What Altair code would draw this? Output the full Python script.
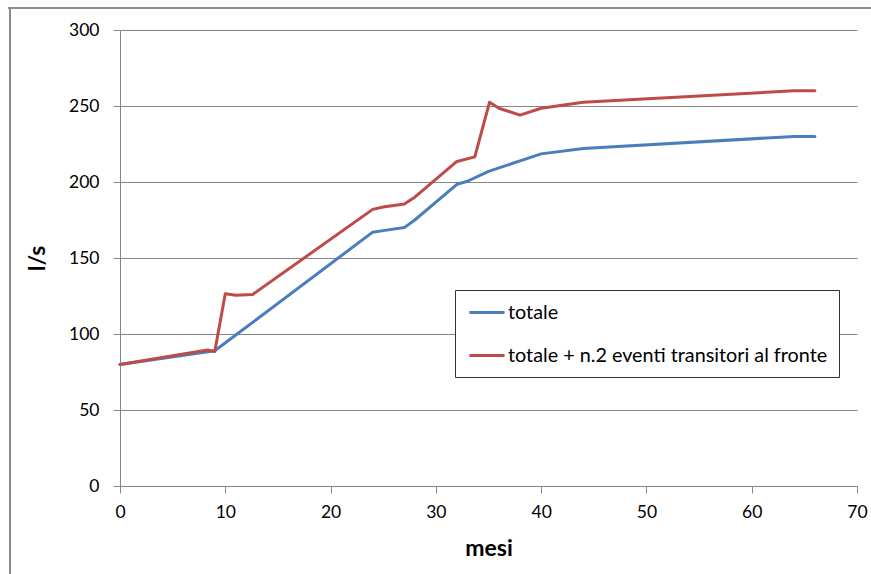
import altair as alt
import pandas as pd

series_names = ["totale", "totale + n.2 eventi transitori al fronte"]
series_colors = ["#4a7ebb", "#be4b48"]

mesi_totale = [0, 9, 24, 25, 27, 28, 32, 33, 35, 40, 44, 64, 66]
ls_totale = [80, 89, 167, 168, 170, 175, 198.5, 200.5, 207, 218.5, 222, 230, 230]

mesi_eventi = [0, 8.3, 9, 10, 11, 12.6, 24, 25, 27, 28, 32, 33.7, 35.1, 36, 38, 40, 44, 64, 66]
ls_eventi = [80, 89.5, 88.5, 126.5, 125.5, 126, 182, 183.5, 185.5, 190, 213.5, 216.5, 252.5, 248.5, 244, 248.5, 252.5, 260, 260]

x_ticks = [0, 10, 20, 30, 40, 50, 60, 70]
y_ticks = [0, 50, 100, 150, 200, 250, 300]

df = pd.concat([
    pd.DataFrame({"mesi": mesi_totale, "ls": ls_totale, "serie": series_names[0]}),
    pd.DataFrame({"mesi": mesi_eventi, "ls": ls_eventi, "serie": series_names[1]}),
], ignore_index=True)

FONT = "Lato"
GRAY = "#868686"

lines = alt.Chart(df).mark_line(strokeWidth=3, interpolate="linear", strokeJoin="round", strokeCap="round").encode(
    x=alt.X("mesi:Q",
            scale=alt.Scale(domain=[0, 70], nice=False, zero=False),
            axis=alt.Axis(values=x_ticks, title="mesi", grid=False, labelFlush=False,
                          domainColor=GRAY, tickColor=GRAY, tickSize=7,
                          labelPadding=10, labelFontSize=17.5, labelFont=FONT, labelColor="#000",
                          titleFontSize=23, titleFont=FONT, titleFontWeight="bold", titleColor="#000",
                          titleY=62, titleBaseline="middle")),
    y=alt.Y("ls:Q",
            scale=alt.Scale(domain=[0, 300], nice=False),
            axis=alt.Axis(values=y_ticks, title="l/s", grid=True, gridColor=GRAY, labelFlush=False,
                          domainColor=GRAY, tickColor=GRAY, tickSize=7,
                          labelPadding=14, labelFontSize=17.5, labelFont=FONT, labelColor="#000",
                          titleFontSize=23, titleFont=FONT, titleFontWeight="bold", titleColor="#000",
                          titleX=-83, titleY=228, titleAngle=-90, titleBaseline="middle", titleAlign="center")),
    color=alt.Color("serie:N",
                    scale=alt.Scale(domain=series_names, range=series_colors),
                    legend=alt.Legend(orient="none", legendX=335, legendY=260, title=None,
                                      strokeColor="#333", fillColor="white", padding=11.5,
                                      symbolType="M-0.85,0L2.85,0", symbolSize=361, symbolStrokeWidth=3,
                                      labelFontSize=19.8, labelFont=FONT, labelColor="#000",
                                      labelOffset=19.5, rowPadding=22, labelLimit=600)),
)

border_df = pd.DataFrame({"k": [0]})
top_border = alt.Chart(border_df).mark_rule(color="#8c8c8c", strokeWidth=2).encode(
    x=alt.value(-112), x2=alt.value(760), y=alt.value(-22))
left_border = alt.Chart(border_df).mark_rule(color="#8c8c8c", strokeWidth=2).encode(
    x=alt.value(-110), y=alt.value(-22), y2=alt.value(600))

chart = alt.layer(top_border, left_border, lines).properties(
    width=737, height=456,
    autosize=alt.AutoSizeParams(type="none"),
    padding={"left": 120, "top": 30, "right": 14, "bottom": 88},
    background="white",
).configure_view(stroke="transparent")

chart.save("out.html", embed_options={"renderer": "svg", "actions": False})
